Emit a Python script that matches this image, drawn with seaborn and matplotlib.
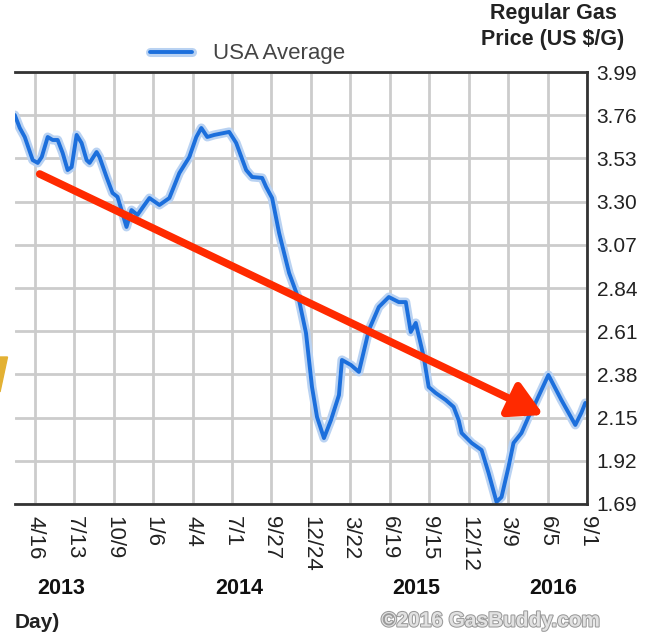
import matplotlib
matplotlib.use("Agg")
import matplotlib.pyplot as plt
import matplotlib.patheffects as pe
import matplotlib.transforms as mtrans
from matplotlib.patches import FancyArrowPatch, Polygon
import numpy as np
import pandas as pd
import seaborn as sns

# ---- data (x in tick-index units, 0 = 4/16/2013, one unit ~ 12 weeks) ----
x_pos = [-0.506, -0.379, -0.253, -0.051, 0.076, 0.177, 0.329, 0.455, 0.582, 0.708,
         0.834, 0.936, 1.062, 1.188, 1.315, 1.391, 1.568, 1.643, 1.820, 1.972,
         2.099, 2.200, 2.326, 2.453, 2.604, 2.781, 2.908, 3.161, 3.413, 3.666,
         3.919, 4.096, 4.223, 4.374, 4.551, 4.930, 5.107, 5.360, 5.512, 5.765,
         5.866, 6.018, 6.195, 6.448, 6.700, 6.877, 7.029, 7.156, 7.332, 7.510,
         7.712, 7.788, 8.016, 8.218, 8.470, 8.723, 8.976, 9.229, 9.406, 9.532,
         9.659, 9.861, 9.987, 10.164, 10.417, 10.619, 10.746, 10.822, 11.075, 11.328,
         11.505, 11.707, 11.833, 12.010, 12.137, 12.339, 12.516, 12.693, 13.021, 13.350,
         13.704, 13.856, 13.957]
price = [3.761, 3.692, 3.644, 3.521, 3.506, 3.537, 3.644, 3.628, 3.628, 3.559,
         3.468, 3.484, 3.655, 3.612, 3.521, 3.506, 3.564, 3.537, 3.431, 3.346,
         3.325, 3.255, 3.165, 3.255, 3.229, 3.282, 3.319, 3.282, 3.319, 3.452,
         3.537, 3.644, 3.692, 3.644, 3.655, 3.671, 3.612, 3.468, 3.431, 3.426,
         3.378, 3.319, 3.133, 2.920, 2.776, 2.600, 2.313, 2.153, 2.041, 2.137,
         2.270, 2.457, 2.430, 2.393, 2.616, 2.739, 2.792, 2.765, 2.765, 2.606,
         2.654, 2.473, 2.313, 2.281, 2.244, 2.207, 2.137, 2.068, 2.015, 1.977,
         1.855, 1.701, 1.727, 1.887, 2.015, 2.068, 2.153, 2.228, 2.377, 2.244,
         2.111, 2.175, 2.228]
tick_labels = ["4/16", "7/13", "10/9", "1/6", "4/4", "7/1", "9/27", "12/24",
               "3/22", "6/19", "9/15", "12/12", "3/9", "6/5", "9/1"]
year_labels = ["2013", "2014", "2015", "2016"]
year_pos = [0.68, 5.18, 9.66, 13.15]
y_ticks = [1.69, 1.92, 2.15, 2.38, 2.61, 2.84, 3.07, 3.30, 3.53, 3.76, 3.99]
trend_start = (0.126, 3.447)
trend_end = (12.9, 2.164)

df = pd.DataFrame({"pos": x_pos, "price": price})

sns.set_style("white")
plt.rcParams["font.family"] = ["Liberation Sans", "DejaVu Sans"]

W, H = 653, 635
fig = plt.figure(figsize=(W / 100, H / 100), dpi=100)
ax = fig.add_axes([15 / W, 1 - 504 / H, (587 - 15) / W, (504 - 72) / H])

blue = "#1c6fdc"
sns.lineplot(data=df, x="pos", y="price", ax=ax, color=blue, lw=2.8,
             label="USA Average", sort=False,
             path_effects=[pe.Stroke(linewidth=6.5, foreground="#b9d2f2"), pe.Normal()])

ax.set_xlim(-0.5, 14.0)
ax.set_ylim(1.69, 3.99)
ax.set_xticks(range(len(tick_labels)))
ax.set_xticklabels(tick_labels, rotation=-90, fontsize=16, color="#222222",
                   va="top", ha="center")
ax.set_yticks(y_ticks)
ax.set_yticklabels([f"{v:.2f}" for v in y_ticks], fontsize=15, color="#222222")
ax.yaxis.tick_right()
ax.tick_params(axis="both", length=0)
ax.tick_params(axis="y", pad=7)
ax.tick_params(axis="x", pad=9)
ax.set_xlabel("")
ax.set_ylabel("")

ax.grid(True, color="#cccccc", lw=2.0)
ax.set_axisbelow(True)
for side in ["top", "bottom", "right"]:
    ax.spines[side].set_color("#333333")
    ax.spines[side].set_linewidth(2.0)
ax.spines["left"].set_visible(False)

leg = ax.legend(loc="center left", bbox_to_anchor=(150 / W, 1 - 54 / H),
                bbox_transform=fig.transFigure, frameon=False, fontsize=16,
                handlelength=1.9, handletextpad=0.95, borderpad=0, borderaxespad=0)
for t in leg.get_texts():
    t.set_color("#444444")

# trend arrow
arrow = FancyArrowPatch(trend_start, trend_end, arrowstyle="-|>,head_length=1.0,head_width=0.55",
                        mutation_scale=20, color="#ff2a00", lw=5.5, shrinkA=0, shrinkB=0,
                        zorder=5)
ax.add_patch(arrow)

# year labels
trans = mtrans.blended_transform_factory(ax.transData, fig.transFigure)
for yl, xp in zip(year_labels, year_pos):
    ax.text(xp, 1 - 588 / H, yl, transform=trans, ha="center", va="center",
            fontsize=15.5, fontweight="bold", color="#111111")

fig.text(553 / W, 1 - 14 / H, "Regular Gas", ha="center", va="center",
         fontsize=15.5, fontweight="bold", color="#222222")
fig.text(553 / W, 1 - 39 / H, "Price (US $/G)", ha="center", va="center",
         fontsize=15.5, fontweight="bold", color="#222222")
fig.text(15 / W, 1 - 622 / H, "Day)", ha="left", va="center", fontsize=15,
         fontweight="bold", color="#222222")
fig.text(491 / W, 1 - 621 / H, "©2016 GasBuddy.com", ha="center", va="center",
         fontsize=15, fontweight="bold", color="#e2e2e2",
         path_effects=[pe.Stroke(linewidth=1.5, foreground="#9a9a9a"), pe.Normal()])

# yellow fragment at left edge
fig.patches.append(Polygon([(0, 1 - 357 / H), (7.5 / W, 1 - 357 / H), (0, 1 - 392 / H)],
                           closed=True, transform=fig.transFigure, color="#e3b133"))

fig.savefig("out.png", dpi=100)
